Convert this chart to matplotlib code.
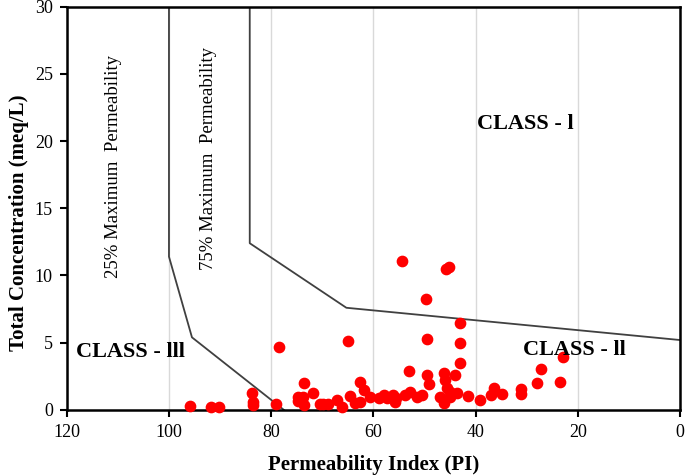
import matplotlib
matplotlib.use("Agg")
import matplotlib.pyplot as plt

# Sample data: Permeability Index (PI) and Total Concentration (meq/L)
pi_values = [95.9, 91.8, 90.3, 83.7, 83.6, 83.5, 79.0, 78.5, 73.5, 74.7, 73.8, 74.7,
             73.5, 71.9, 69.8, 68.8, 67.2, 66.2, 65.0, 64.6, 62.6, 61.8, 60.6, 62.6,
             63.6, 54.4, 45.8, 45.3, 49.8, 43.0, 49.5, 43.0, 43.0, 53.1, 49.5, 49.2,
             46.2, 46.0, 44.0, 45.6, 27.2, 22.9, 23.5, 28.0, 31.2, 31.2, 34.9, 36.5,
             37.0, 39.1, 41.6, 43.7, 45.0, 46.3, 47.0, 50.5, 51.4, 52.8, 53.8, 55.8,
             56.2, 58.0, 55.6, 57.4, 45.0, 70.5, 59.0]
tc_values = [0.32, 0.25, 0.25, 1.29, 0.62, 0.37, 0.42, 4.71, 1.98, 0.99, 0.99, 0.64,
             0.37, 1.29, 0.42, 0.42, 0.74, 0.25, 5.15, 1.06, 2.10, 1.49, 0.99, 0.62,
             0.50, 11.08, 10.46, 10.65, 8.23, 6.49, 5.25, 5.00, 3.52, 2.90, 2.60, 1.91,
             2.73, 2.23, 2.60, 1.61, 3.03, 3.96, 2.10, 1.98, 1.54, 1.19, 1.17, 1.61,
             1.12, 0.74, 1.04, 1.24, 0.99, 0.55, 0.99, 1.12, 0.99, 1.36, 1.12, 0.62,
             1.12, 1.12, 0.87, 0.87, 1.36, 0.45, 0.90]

# Boundary lines of the Doneen diagram
line25_x = [100, 100, 95.5, 77.5]
line25_y = [30, 11.4, 5.4, 0]
line75_x = [84.2, 84.2, 65.3, 0]
line75_y = [30, 12.4, 7.6, 5.2]

x_ticks = [120, 100, 80, 60, 40, 20, 0]
y_ticks = [0, 5, 10, 15, 20, 25, 30]

serif = ["Liberation Serif", "DejaVu Serif"]

fig = plt.figure(figsize=(6.85, 4.76), dpi=100)
ax = fig.add_axes([0.0974, 0.1387, 0.8956, 0.8476])

ax.set_xlim(120, 0)
ax.set_ylim(0, 30)
ax.set_xticks(x_ticks)
ax.set_yticks(y_ticks)
ax.grid(axis="x", color="#d9d9d9", linewidth=1.0)
ax.set_axisbelow(True)

ax.plot(line25_x, line25_y, color="#404040", linewidth=1.3, zorder=2)
ax.plot(line75_x, line75_y, color="#404040", linewidth=1.3, zorder=2)

ax.scatter(pi_values, tc_values, s=55, color="#ff0000", zorder=3, clip_on=False)

for side in ["left", "right", "top", "bottom"]:
    ax.spines[side].set_linewidth(1.8)
    ax.spines[side].set_color("black")

ax.tick_params(axis="both", direction="out", length=5, width=1.5, labelsize=13, pad=5)
for lab in ax.get_xticklabels() + ax.get_yticklabels():
    lab.set_fontfamily(serif)

ax.set_xlabel("Permeability Index (PI)", fontfamily=serif, fontsize=15,
              fontweight="bold", labelpad=10)
ax.set_ylabel("Total Concentration (meq/L)", fontfamily=serif, fontsize=15,
              fontweight="bold")
ax.yaxis.set_label_coords(-0.062, 0.465)

ax.text(110.9, 18.1, "25% Maximum  Permeability", rotation=90, ha="center", va="center",
        fontfamily=serif, fontsize=13.5)
ax.text(92.2, 18.7, "75% Maximum  Permeability", rotation=90, ha="center", va="center",
        fontfamily=serif, fontsize=13.5)
ax.text(30.3, 21.3, "CLASS - l", ha="center", va="center", fontfamily=serif,
        fontsize=16, fontweight="bold")
ax.text(20.7, 4.46, "CLASS - ll", ha="center", va="center", fontfamily=serif,
        fontsize=16, fontweight="bold")
ax.text(107.6, 4.33, "CLASS - lll", ha="center", va="center", fontfamily=serif,
        fontsize=16, fontweight="bold")

fig.savefig("out.png", dpi=100)
